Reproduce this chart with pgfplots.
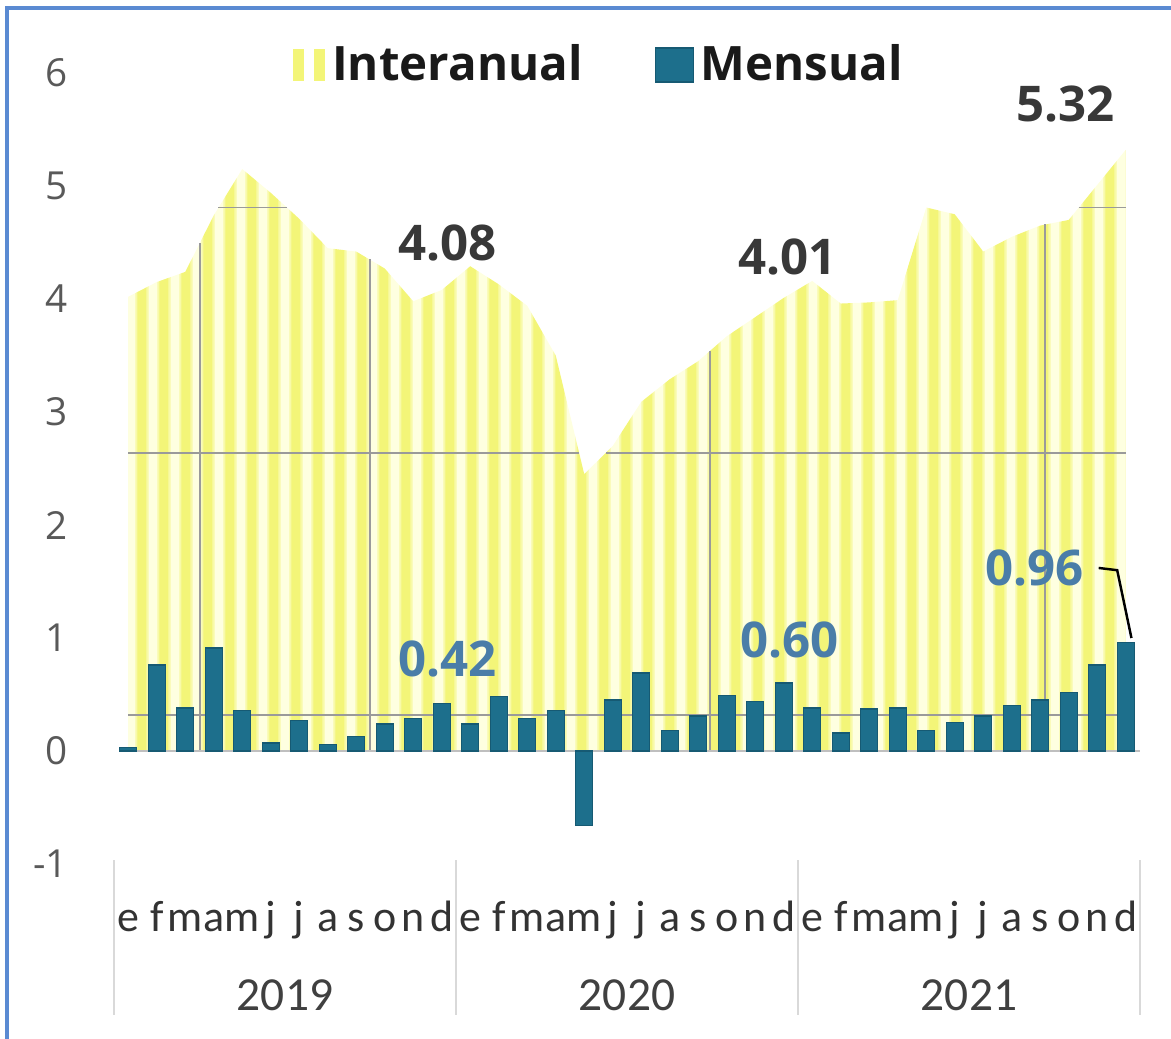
\documentclass[border=0pt]{standalone}
\usepackage{pgfplots}
\pgfplotsset{compat=1.18}
\usepackage{pgfplotstable}
\usepackage{fontspec}
\setmainfont{Open Sans}
\newfontfamily\carlito{Carlito}
\usetikzlibrary{patterns.meta}
\definecolor{ybright}{HTML}{F3F578}
\definecolor{ymid}{HTML}{F8FAA8}
\definecolor{ypale}{HTML}{FEFFE0}
\definecolor{teal1}{HTML}{1D6F8C}
\definecolor{teal2}{HTML}{165A73}
\definecolor{lblblue}{HTML}{4A7DA8}
\definecolor{frameblue}{HTML}{5A8AD2}
\definecolor{gridg}{HTML}{9A9A9A}
\tikzdeclarepattern{
  name=ystripes, type=colored,
  bottom left={(0mm,0mm)}, top right={(2.2mm,1mm)}, tile size={(2.2mm,1mm)},
  code={
    \fill[ypale] (0mm,0mm) rectangle (2.2mm,1mm);
    \fill[ymid] (0.45mm,0mm) rectangle (1.75mm,1mm);
    \fill[ybright] (0.65mm,0mm) rectangle (1.55mm,1mm);
  }
}
\pgfplotstableread{
i inter mens
0 4.02 0.03
1 4.15 0.76
2 4.24 0.38
3 4.74 0.91
4 5.15 0.36
5 4.94 0.07
6 4.71 0.27
7 4.45 0.06
8 4.42 0.13
9 4.27 0.24
10 3.98 0.29
11 4.08 0.42
12 4.29 0.24
13 4.13 0.48
14 3.94 0.29
15 3.50 0.36
16 2.45 -0.66
17 2.70 0.45
18 3.09 0.69
19 3.29 0.18
20 3.45 0.31
21 3.67 0.49
22 3.84 0.44
23 4.01 0.60
24 4.16 0.38
25 3.96 0.16
26 3.97 0.37
27 3.99 0.38
28 4.81 0.18
29 4.75 0.25
30 4.42 0.31
31 4.55 0.40
32 4.65 0.45
33 4.70 0.52
34 5.01 0.76
35 5.32 0.96
}\data
\begin{document}
\begin{tikzpicture}
\begin{axis}[
  at={(11.4mm,17.5mm)}, anchor=south west,
  width=102.6mm, height=79.1mm, scale only axis,
  xmin=-0.5, xmax=35.5, ymin=-1, ymax=6,
  axis line style={draw=none}, major tick length=0pt,
  xtick={0,...,35},
  xticklabels={e,f,m,a,m,j,j,a,s,o,n,d,e,f,m,a,m,j,j,a,s,o,n,d,e,f,m,a,m,j,j,a,s,o,n,d},
  xticklabel style={font=\carlito\fontsize{12.5}{14}\selectfont, text=black!80, anchor=base, yshift=-6.8mm},
  ytick={-1,0,...,6},
  yticklabel style={font=\fontsize{11}{13}\selectfont, text=black!65, xshift=-3.4mm},
  /pgf/number format/assume math mode=true,
  clip=false,
  legend style={at={(0.475,1.01)}, anchor=center, draw=none, fill=none, inner sep=0pt,
    font=\bfseries\fontsize{13.5}{16}\selectfont, text=black!90,
    /tikz/every even column/.append style={column sep=6.5mm}},
  legend columns=2,
]
\addlegendimage{legend image code/.code={
  \fill[ybright] (0mm,-1.5mm) rectangle (1mm,1.5mm);
  \fill[ybright] (2.1mm,-1.5mm) rectangle (3.1mm,1.5mm);}}
\addlegendentry{Interanual}
\addlegendimage{legend image code/.code={
  \fill[teal1, draw=teal2] (0mm,-1.7mm) rectangle (3.8mm,1.7mm);}}
\addlegendentry{Mensual}

\addplot[draw=none, pattern=ystripes, forget plot] table[x=i, y=inter] {\data} \closedcycle;

% faint grid segments visible inside the area
\draw[gridg, line width=0.5pt] (axis cs:3.16,4.81) -- (axis cs:5.57,4.81);
\draw[gridg, line width=0.5pt] (axis cs:33.35,4.81) -- (axis cs:35,4.81);
\draw[gridg, line width=0.5pt] (axis cs:0,2.64) -- (axis cs:15.82,2.64);
\draw[gridg, line width=0.5pt] (axis cs:16.76,2.64) -- (axis cs:35,2.64);
\draw[gridg, line width=0.5pt] (axis cs:0,0.32) -- (axis cs:35,0.32);
\draw[gridg, line width=0.5pt] (axis cs:2.53,0) -- (axis cs:2.53,4.5);
\draw[gridg, line width=0.5pt] (axis cs:8.49,0) -- (axis cs:8.49,4.35);
\draw[gridg, line width=0.5pt] (axis cs:20.42,0) -- (axis cs:20.42,3.54);
\draw[gridg, line width=0.5pt] (axis cs:32.18,0) -- (axis cs:32.18,4.66);
\draw[gray!50, line width=0.8pt] (axis cs:-0.3,0) -- (axis cs:35.5,0);

\addplot[ybar, bar width=1.7mm, fill=teal1, draw=teal2, forget plot] table[x=i, y=mens] {\data};

% value labels
\node[font=\bfseries\fontsize{14}{16}\selectfont, text=black!78] at (axis cs:11.19,4.50) {4.08};
\node[font=\bfseries\fontsize{14}{16}\selectfont, text=black!78] at (axis cs:23.12,4.37) {4.01};
\node[font=\bfseries\fontsize{14}{16}\selectfont, text=black!78] at (axis cs:32.88,5.73) {5.32};
\node[font=\bfseries\fontsize{14}{16}\selectfont, text=lblblue] at (axis cs:11.19,0.81) {0.42};
\node[font=\bfseries\fontsize{14}{16}\selectfont, text=lblblue] at (axis cs:23.2,0.98) {0.60};
\node[font=\bfseries\fontsize{14}{16}\selectfont, text=lblblue] at (axis cs:31.8,1.62) {0.96};
\draw[black, line width=0.7pt] (axis cs:34.05,1.62) -- (axis cs:34.7,1.60) -- (axis cs:35.2,1.0);

% year separators and labels
\draw[gray!30, line width=0.7pt] (axis cs:-0.5,-0.965) -- (axis cs:-0.5,-2.34);
\draw[gray!30, line width=0.7pt] (axis cs:11.5,-0.965) -- (axis cs:11.5,-2.34);
\draw[gray!30, line width=0.7pt] (axis cs:23.5,-0.965) -- (axis cs:23.5,-2.34);
\draw[gray!30, line width=0.7pt] (axis cs:35.5,-0.965) -- (axis cs:35.5,-2.34);
\node[font=\carlito\fontsize{13.5}{16}\selectfont, text=black!75, yshift=-13.1mm] at (axis cs:5.5,-1) {2019};
\node[font=\carlito\fontsize{13.5}{16}\selectfont, text=black!75, yshift=-13.1mm] at (axis cs:17.5,-1) {2020};
\node[font=\carlito\fontsize{13.5}{16}\selectfont, text=black!75, yshift=-13.1mm] at (axis cs:29.5,-1) {2021};
\end{axis}
\draw[frameblue, line width=1.2pt] (0.7mm,0mm) -- (0.7mm,103.1mm) -- (117.1mm,103.1mm);
\pgfresetboundingbox
\useasboundingbox (0mm,0mm) rectangle (117.1mm,103.9mm);
\end{tikzpicture}
\end{document}
